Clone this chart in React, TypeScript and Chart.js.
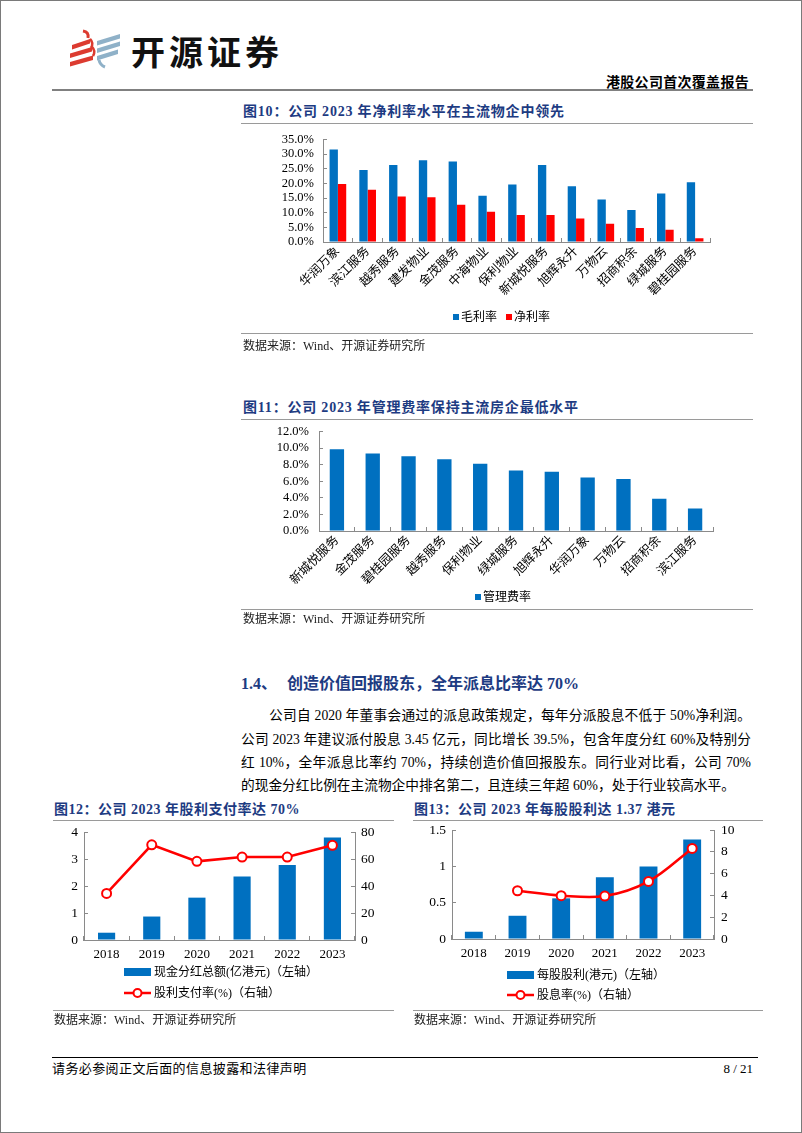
import React, { useEffect, useRef } from 'react';
import { Chart, registerables } from 'chart.js';

Chart.register(...registerables);

// ---------------- DATA ----------------
const fig10Categories = ['华润万象', '滨江服务', '越秀服务', '建发物业', '金茂服务', '中海物业', '保利物业', '新城悦服务', '旭辉永升', '万物云', '招商积余', '绿城服务', '碧桂园服务'];
const fig10Gross = [31.6, 24.6, 26.3, 27.9, 27.5, 15.8, 19.6, 26.3, 19.0, 14.5, 10.9, 16.6, 20.4];
const fig10Net = [19.8, 17.8, 15.5, 15.3, 12.7, 10.3, 9.2, 9.2, 8.0, 6.2, 4.8, 4.2, 1.3];

const fig11Categories = ['新城悦服务', '金茂服务', '碧桂园服务', '越秀服务', '保利物业', '绿城服务', '旭辉永升', '华润万象', '万物云', '招商积余', '滨江服务'];
const fig11Admin = [9.85, 9.34, 9.02, 8.66, 8.1, 7.31, 7.15, 6.44, 6.28, 3.9, 2.7];

const years = ['2018', '2019', '2020', '2021', '2022', '2023'];
const fig12Dividend = [0.27, 0.87, 1.57, 2.35, 2.78, 3.8];
const fig12Payout = [34.5, 70.6, 58.3, 61.5, 61.5, 70.2];

const fig13Dps = [0.1, 0.32, 0.56, 0.85, 1.0, 1.37];
const fig13Yield = [null, 4.43, 3.98, 3.94, 5.29, 8.32];

// ---------------- STYLE ----------------
const BLUE = '#0070C0';
const RED = '#FF0000';
const NAVY = '#1d3b82';
const GRID = '#8a8a8a';
const FONT = '"Liberation Serif", "Times New Roman", "Noto Sans CJK SC", serif';

Chart.defaults.font.family = FONT;
Chart.defaults.color = '#000';

function axisBase(tickPadding: number, size: number) {
  return {
    grid: { display: true, drawOnChartArea: false, drawTicks: true, tickLength: -4, color: GRID, tickColor: GRID, lineWidth: 1 },
    border: { display: true, color: GRID, width: 1 },
    ticks: { font: { family: FONT, size }, color: '#000', padding: tickPadding, autoSkip: false },
  };
}

function baseOptions(padding: any, scales: any) {
  return {
    animation: false,
    responsive: false,
    maintainAspectRatio: false,
    layout: { padding, autoPadding: false },
    plugins: { legend: { display: false }, tooltip: { enabled: false } },
    scales,
  };
}

function buildFig10() {
  const x: any = axisBase(6, 12.5);
  x.ticks = { ...x.ticks, maxRotation: 45, minRotation: 45 };
  x.afterFit = (s: any) => { s.height = 69; };
  const y: any = axisBase(13, 12.5);
  y.min = 0; y.max = 35;
  y.ticks = { ...y.ticks, stepSize: 5, callback: (v: any) => Number(v).toFixed(1) + '%' };
  y.afterFit = (s: any) => { s.width = 82; };
  return {
    type: 'bar',
    data: {
      labels: fig10Categories,
      datasets: [
        { label: '毛利率', data: fig10Gross, backgroundColor: BLUE, categoryPercentage: 0.56, barPercentage: 1 },
        { label: '净利率', data: fig10Net, backgroundColor: RED, categoryPercentage: 0.56, barPercentage: 1 },
      ],
    },
    options: baseOptions({ top: 0, right: 11, left: 0, bottom: 0 }, { x, y }),
  };
}

function buildFig11() {
  const x: any = axisBase(6, 12.5);
  x.ticks = { ...x.ticks, maxRotation: 45, minRotation: 45 };
  x.afterFit = (s: any) => { s.height = 60; };
  const y: any = axisBase(14, 12.5);
  y.min = 0; y.max = 12;
  y.ticks = { ...y.ticks, stepSize: 2, callback: (v: any) => Number(v).toFixed(1) + '%' };
  y.afterFit = (s: any) => { s.width = 78; };
  return {
    type: 'bar',
    data: {
      labels: fig11Categories,
      datasets: [
        { label: '管理费率', data: fig11Admin, backgroundColor: BLUE, categoryPercentage: 0.4, barPercentage: 1 },
      ],
    },
    options: baseOptions({ top: 0, right: 8, left: 0, bottom: 0 }, { x, y }),
  };
}

function buildCombo(
  bars: number[], line: (number | null)[], barLabel: string, lineLabel: string,
  leftMax: number, leftStep: number, rightMax: number, rightStep: number,
  leftW: number, rightW: number, leftPad: number, rightPad: number, catPct: number, tension: number,
) {
  const x: any = axisBase(11, 13);
  x.afterFit = (s: any) => { s.height = 26; };
  const y: any = axisBase(leftPad, 13.5);
  y.position = 'left'; y.min = 0; y.max = leftMax;
  y.ticks = { ...y.ticks, stepSize: leftStep, callback: (v: any) => String(Number(v)) };
  y.afterFit = (s: any) => { s.width = leftW; };
  const y1: any = axisBase(rightPad, 13.5);
  y1.position = 'right'; y1.min = 0; y1.max = rightMax;
  y1.ticks = { ...y1.ticks, stepSize: rightStep, callback: (v: any) => String(Number(v)) };
  y1.afterFit = (s: any) => { s.width = rightW; };
  return {
    type: 'bar',
    data: {
      labels: years,
      datasets: [
        {
          type: 'line', label: lineLabel, data: line, yAxisID: 'y1', order: 0,
          borderColor: RED, borderWidth: 2.5, tension,
          pointRadius: 4.5, pointBackgroundColor: '#ffffff', pointBorderColor: RED, pointBorderWidth: 2,
        },
        {
          type: 'bar', label: barLabel, data: bars, yAxisID: 'y', order: 1,
          backgroundColor: BLUE, categoryPercentage: catPct, barPercentage: 1,
        },
      ],
    },
    options: baseOptions({ top: 0, right: 0, left: 0, bottom: 0 }, { x, y, y1 }),
  };
}

function buildFig12() {
  return buildCombo(fig12Dividend, fig12Payout, '现金分红总额(亿港元)（左轴）', '股利支付率(%)（右轴）',
    4, 1, 80, 20, 33, 41, 10, 10, 0.38, 0);
}

function buildFig13() {
  return buildCombo(fig13Dps, fig13Yield, '每股股利(港元)（左轴）', '股息率(%)（右轴）',
    1.5, 0.5, 10, 2, 41, 40, 10, 11, 0.41, 0.35);
}

// ---------------- COMPONENTS ----------------
function ChartBox({ left, top, width, height, build }: { left: number; top: number; width: number; height: number; build: () => any }) {
  const ref = useRef<HTMLCanvasElement>(null);
  useEffect(() => {
    const chart = new Chart(ref.current as HTMLCanvasElement, build());
    return () => chart.destroy();
  }, []);
  return (
    <canvas ref={ref} width={width} height={height}
      style={{ position: 'absolute', left, top, width, height }} />
  );
}

function T({ x, y, size, children, bold, color, right, spacing }: any) {
  const style: any = {
    position: 'absolute', top: y - size * 0.75, height: size * 1.5, lineHeight: `${size * 1.5}px`,
    fontSize: size, fontFamily: FONT, fontWeight: bold ? 700 : 400, color: color || '#000',
    whiteSpace: 'nowrap', letterSpacing: spacing || 0,
  };
  if (right !== undefined) style.right = right; else style.left = x;
  return <div style={style}>{children}</div>;
}

function HLine({ x1, x2, y, color, w }: any) {
  return <div style={{ position: 'absolute', left: x1, top: y, width: x2 - x1, height: w || 1, background: color || '#9a9a9a' }} />;
}

function Box({ x, y, w, h, color }: any) {
  return <div style={{ position: 'absolute', left: x, top: y, width: w, height: h, background: color }} />;
}

function LineSwatch({ x, y }: any) {
  return (
    <svg style={{ position: 'absolute', left: x, top: y - 6 }} width={28} height={12}>
      <line x1={0} y1={6} x2={27} y2={6} stroke={RED} strokeWidth={2.5} />
      <circle cx={13.5} cy={6} r={4} fill="#fff" stroke={RED} strokeWidth={2} />
    </svg>
  );
}

function Logo() {
  const red = '#dc3b30';
  const blue = '#8fb1c8';
  return (
    <svg style={{ position: 'absolute', left: 64, top: 26 }} width={60} height={44} viewBox="64 26 60 44">
      <path d="M82 30 Q88 31 87 37" stroke={red} strokeWidth={3} fill="none" />
      <polygon points="71,44 89,38 89,42.5 71,48.5" fill={red} />
      <polygon points="69,52.5 91,46 91,50.5 69,57" fill={red} />
      <polygon points="69,61 92,54.5 92,59 69,65.5" fill={red} />
      <path d="M89 38 Q93 42 90 47 M91 46 Q95 50 92 55" stroke={red} strokeWidth={2.5} fill="none" />
      <polygon points="96,40 119,33 119,37.5 96,44.5" fill={blue} />
      <polygon points="96,47.5 119,40.5 119,45 96,52" fill={blue} />
      <polygon points="96,55 117,48.5 117,53 96,59.5" fill={blue} />
      <path d="M98 59 Q99 64 104 66" stroke={blue} strokeWidth={3} fill="none" />
    </svg>
  );
}

const PARA_SIZE = 13.7;

function ParaLine({ y, indent, children, justify }: any) {
  return (
    <div style={{
      position: 'absolute', left: 240 + (indent || 0), top: y - 11, width: 510 - (indent || 0), height: 22,
      lineHeight: '22px', fontSize: PARA_SIZE, fontFamily: FONT, color: '#000', whiteSpace: 'nowrap',
      textAlign: justify ? 'justify' : 'left', textAlignLast: justify ? 'justify' : 'left',
    } as any}>{children}</div>
  );
}

export default function App() {
  return (
    <div style={{
      position: 'absolute', left: 0, top: 0, width: 802, height: 1133, boxSizing: 'border-box',
      border: '1px solid #7a7a7a', background: '#fff', overflow: 'hidden', fontFamily: FONT,
    }}>
      {/* Header */}
      <Logo />
      <div style={{
        position: 'absolute', left: 130, top: 30, fontSize: 34, lineHeight: '40px', fontWeight: 700,
        fontFamily: '"Noto Sans CJK SC", sans-serif', letterSpacing: 4, color: '#111', whiteSpace: 'nowrap',
      }}>开源证券</div>
      <T right={52} y={81} size={14} bold spacing={0.3}>港股公司首次覆盖报告</T>
      <HLine x1={51} x2={752} y={88} color="#808080" w={2} />

      {/* Figure 10 */}
      <T x={242} y={110} size={14} bold color={NAVY} spacing={0.8}>图10：公司 2023 年净利率水平在主流物企中领先</T>
      <HLine x1={240} x2={752} y={122} />
      <ChartBox left={240} top={118} width={480} height={192} build={buildFig10} />
      <Box x={452} y={313} w={6} h={6} color={BLUE} />
      <T x={460} y={316} size={12}>毛利率</T>
      <Box x={505} y={313} w={6} h={6} color={RED} />
      <T x={513} y={316} size={12}>净利率</T>
      <HLine x1={240} x2={752} y={332} />
      <T x={242} y={345} size={12} color="#222">数据来源：Wind、开源证券研究所</T>

      {/* Figure 11 */}
      <T x={242} y={406} size={14} bold color={NAVY} spacing={0.8}>图11：公司 2023 年管理费率保持主流房企最低水平</T>
      <HLine x1={240} x2={752} y={418} />
      <ChartBox left={240} top={409} width={480} height={181} build={buildFig11} />
      <Box x={474} y={593} w={6} h={6} color={BLUE} />
      <T x={482} y={596} size={12}>管理费率</T>
      <HLine x1={240} x2={752} y={608} />
      <T x={242} y={618} size={12} color="#222">数据来源：Wind、开源证券研究所</T>

      {/* Section 1.4 */}
      <T x={240} y={683} size={16} bold color={NAVY}>1.4、<span style={{ marginLeft: 10 }}>创造价值回报股东，全年派息比率达 70%</span></T>
      <ParaLine y={715} indent={28} justify>公司自 2020 年董事会通过的派息政策规定，每年分派股息不低于 50%净利润。</ParaLine>
      <ParaLine y={739} justify>公司 2023 年建议派付股息 3.45 亿元，同比增长 39.5%，包含年度分红 60%及特别分</ParaLine>
      <ParaLine y={762} justify>红 10%，全年派息比率约 70%，持续创造价值回报股东。同行业对比看，公司 70%</ParaLine>
      <ParaLine y={785}>的现金分红比例在主流物企中排名第二，且连续三年超 60%，处于行业较高水平。</ParaLine>

      {/* Figure 12 */}
      <T x={53} y={808} size={14} bold color={NAVY} spacing={0.5}>图12：公司 2023 年股利支付率达 70%</T>
      <HLine x1={52} x2={393} y={819} />
      <ChartBox left={50} top={813} width={345} height={152} build={buildFig12} />
      <Box x={123} y={967} w={27} h={8} color={BLUE} />
      <T x={153} y={971} size={12}>现金分红总额(亿港元)（左轴）</T>
      <LineSwatch x={123} y={992} />
      <T x={153} y={992} size={12}>股利支付率(%)（右轴）</T>
      <HLine x1={52} x2={393} y={1009} />
      <T x={53} y={1019} size={12} color="#222">数据来源：Wind、开源证券研究所</T>

      {/* Figure 13 */}
      <T x={413} y={808} size={14} bold color={NAVY} spacing={0.5}>图13：公司 2023 年每股股利达 1.37 港元</T>
      <HLine x1={412} x2={762} y={819} />
      <ChartBox left={410} top={810} width={343} height={154} build={buildFig13} />
      <Box x={506} y={970} w={27} h={8} color={BLUE} />
      <T x={536} y={974} size={12}>每股股利(港元)（左轴）</T>
      <LineSwatch x={506} y={994} />
      <T x={536} y={994} size={12}>股息率(%)（右轴）</T>
      <HLine x1={412} x2={762} y={1009} />
      <T x={413} y={1019} size={12} color="#222">数据来源：Wind、开源证券研究所</T>

      {/* Footer */}
      <HLine x1={51} x2={757} y={1056} color="#000" />
      <T x={51} y={1068} size={13} spacing={0.4}>请务必参阅正文后面的信息披露和法律声明</T>
      <T right={48} y={1068} size={13}>8 / 21</T>
    </div>
  );
}
